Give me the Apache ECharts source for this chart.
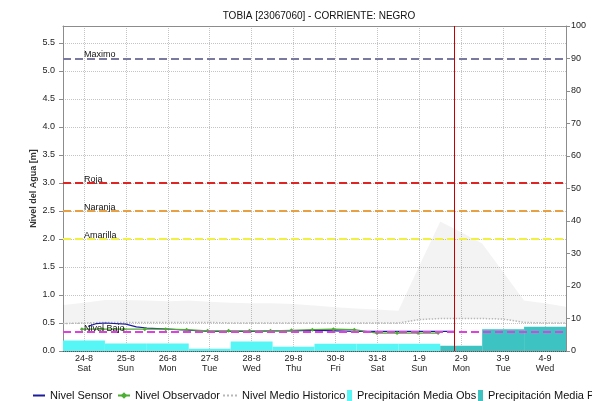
<!DOCTYPE html>
<html>
<head>
<meta charset="utf-8">
<script src="https://cdn.jsdelivr.net/npm/echarts@6/dist/echarts.min.js"></script>
<style>
  html, body { margin: 0; padding: 0; background: #fff; }
  #chart { width: 592px; height: 401px; }
</style>
</head>
<body>
<div id="chart"></div>
<script>
// Station level chart: sensor/observer readings, historical band, thresholds and daily rainfall.
const dayLabels = ['24-8', '25-8', '26-8', '27-8', '28-8', '29-8', '30-8', '31-8', '1-9', '2-9', '3-9', '4-9'];
const weekdayLabels = ['Sat', 'Sun', 'Mon', 'Tue', 'Wed', 'Thu', 'Fri', 'Sat', 'Sun', 'Mon', 'Tue', 'Wed'];

// Daily mean precipitation (right axis)
const precipObserved = [3.2, 2.3, 2.3, 0.7, 2.9, 1.3, 2.2, 2.2, 2.2, null, null, null];
const precipForecast = [null, null, null, null, null, null, null, null, null, 1.6, 6.7, 7.5];

// Sensor level (m), time in days from 24-8 noon
const sensorDays = [0.1, 0.3, 0.5, 1.0, 1.25, 1.5, 2.0, 2.5, 3.0, 3.5, 4.0, 4.5, 5.0, 5.5, 6.0, 6.5, 7.0, 7.5, 8.0, 8.5, 8.83];
const sensorLevels = [0.44, 0.49, 0.50, 0.48, 0.43, 0.41, 0.39, 0.37, 0.35, 0.35, 0.35, 0.36, 0.36, 0.37, 0.36, 0.35, 0.35, 0.35, 0.35, 0.35, 0.35];

// Observer readings (m)
const observerDays = [-0.05, 0.45, 0.95, 1.45, 1.95, 2.45, 2.95, 3.45, 3.95, 4.45, 4.95, 5.45, 5.95, 6.45, 6.99, 7.47, 7.97, 8.45];
const observerLevels = [0.39, 0.39, 0.39, 0.39, 0.39, 0.38, 0.36, 0.36, 0.36, 0.36, 0.37, 0.38, 0.39, 0.38, 0.32, 0.32, 0.32, 0.32];

// Historical mean level and historical maximum envelope (m), every half day
const histDays = [-0.5, 0, 0.5, 1, 1.5, 2, 2.5, 3, 3.5, 4, 4.5, 5, 5.5, 6, 6.5, 7, 7.5, 8, 8.5, 9, 9.5, 10, 10.5, 11, 11.5];
const histMean = [0.49, 0.50, 0.51, 0.51, 0.51, 0.51, 0.51, 0.51, 0.50, 0.50, 0.50, 0.50, 0.50, 0.50, 0.50, 0.50, 0.50, 0.56, 0.58, 0.58, 0.58, 0.57, 0.51, 0.50, 0.50];
const histUpper = [0.82, 0.86, 0.91, 0.91, 0.90, 0.89, 0.90, 0.88, 0.86, 0.85, 0.85, 0.84, 0.81, 0.78, 0.76, 0.74, 0.72, 1.52, 2.31, 2.12, 1.92, 1.41, 0.90, 0.85, 0.79];

// Alert thresholds (m)
const thresholdNames = ['Maximo', 'Roja', 'Naranja', 'Amarilla', 'Nivel Bajo'];
const thresholdValues = [5.22, 3.0, 2.5, 2.0, 0.345];

// Current time marker (days)
const nowDay = 8.83;

const thresholdColors = ['#7a7aa0', '#e02424', '#e8a040', '#f2f23c', '#e040e0'];
const FONT = 'Liberation Sans, Arial, sans-serif';

const zip = (xs, ys) => xs.map((x, i) => [x, ys[i]]);

const chart = echarts.init(document.getElementById('chart'), null, { renderer: 'canvas' });

const markData = thresholdValues.map((v, i) => ({
  yAxis: v,
  name: thresholdNames[i],
  lineStyle: { color: thresholdColors[i], type: [8, 4], width: 2 },
  label: { formatter: thresholdNames[i] }
}));
markData.push({
  xAxis: nowDay,
  lineStyle: { color: '#c40000', type: 'solid', width: 1 },
  label: { show: false }
});

// One legend block per entry so each icon sits where it belongs
const legendItems = [
  { name: 'Nivel Sensor', left: 32, w: 12, h: 8, hideSymbol: true },
  { name: 'Nivel Observador', left: 117, w: 12, h: 8, hideSymbol: false },
  { name: 'Nivel Medio Historico', left: 222, w: 14, h: 8, hideSymbol: true },
  { name: 'Precipitación Media Obs', left: 347, w: 5, h: 11, icon: 'rect' },
  { name: 'Precipitación Media Pronosticada', left: 478, w: 5, h: 11, icon: 'rect' }
];
const legends = legendItems.map(it => ({
  data: [it.hideSymbol ? { name: it.name, itemStyle: { opacity: 0 } } : { name: it.name }],
  left: it.left,
  top: 390,
  padding: 0,
  icon: it.icon,
  itemWidth: it.w,
  itemHeight: it.h,
  selectedMode: false,
  textStyle: { fontSize: 11, color: '#111', fontFamily: FONT }
}));

chart.setOption({
  animation: false,
  backgroundColor: '#ffffff',
  textStyle: { fontFamily: FONT },
  title: {
    text: 'TOBIA [23067060] - CORRIENTE: NEGRO',
    left: 314,
    top: 6,
    textAlign: 'center',
    textStyle: { fontSize: 10, fontWeight: 'normal', color: '#111', fontFamily: FONT }
  },
  grid: { left: 63, right: 26, top: 26, bottom: 50, containLabel: false },
  legend: legends,
  xAxis: [
    {
      type: 'category',
      data: dayLabels.map((d, i) => d + '\n' + weekdayLabels[i]),
      boundaryGap: true,
      axisLine: { show: true, onZero: false, lineStyle: { color: '#555', type: 'dotted', width: 1 } },
      axisTick: { show: false },
      axisLabel: { fontSize: 9, color: '#222', lineHeight: 9.5, margin: 3, interval: 0, fontFamily: FONT },
      splitLine: { show: false }
    },
    {
      type: 'value',
      min: -0.5, max: 11.5,
      show: false
    },
    {
      type: 'value',
      position: 'top',
      min: 0, max: 1,
      axisLine: { show: true, onZero: false, lineStyle: { color: '#8c8c8c', width: 1 } },
      axisTick: { show: false },
      axisLabel: { show: false },
      splitLine: { show: false }
    },
    {
      // half-day axis: carries the historical band and the daily vertical grid
      type: 'category',
      data: histDays,
      boundaryGap: false,
      axisLine: { show: false, onZero: false },
      axisTick: { show: false },
      axisLabel: { show: false },
      splitLine: {
        show: true,
        interval: (index) => index % 2 === 1,
        lineStyle: { color: '#c4c4c4', type: 'dotted', width: 1 }
      }
    }
  ],
  yAxis: [
    {
      type: 'value',
      min: 0, max: 5.8, interval: 0.5,
      name: 'Nivel del Agua [m]',
      nameLocation: 'middle',
      nameGap: 25,
      nameMoveOverlap: false,
      nameTextStyle: { fontSize: 9, fontWeight: 'bold', color: '#333', fontFamily: FONT },
      axisLine: { show: true, onZero: false, lineStyle: { color: '#8c8c8c', width: 1 } },
      axisTick: { show: true, length: 4, lineStyle: { color: '#8c8c8c' } },
      axisLabel: { fontSize: 9, color: '#222', margin: 8, showMaxLabel: false, formatter: v => v.toFixed(1), fontFamily: FONT },
      splitLine: { show: true, lineStyle: { color: '#c4c4c4', type: 'dotted', width: 1 } }
    },
    {
      type: 'value',
      min: 0, max: 100, interval: 10,
      position: 'right',
      axisLine: { show: true, onZero: false, lineStyle: { color: '#8c8c8c', width: 1 } },
      axisTick: { show: true, length: 4, lineStyle: { color: '#8c8c8c' } },
      axisLabel: { fontSize: 9, color: '#222', margin: 5, fontFamily: FONT },
      splitLine: { show: false }
    }
  ],
  series: [
    {
      name: 'histLower',
      type: 'line',
      xAxisIndex: 3, yAxisIndex: 0,
      stack: 'hist',
      data: histMean,
      symbol: 'none',
      lineStyle: { opacity: 0 },
      silent: true,
      z: 1
    },
    {
      name: 'histBand',
      type: 'line',
      xAxisIndex: 3, yAxisIndex: 0,
      stack: 'hist',
      data: histUpper.map((u, i) => +(u - histMean[i]).toFixed(3)),
      symbol: 'none',
      lineStyle: { opacity: 0 },
      areaStyle: { color: 'rgba(0,0,0,0.065)' },
      silent: true,
      z: 1
    },
    {
      name: 'Precipitación Media Obs',
      type: 'bar',
      xAxisIndex: 0, yAxisIndex: 1,
      data: precipObserved,
      barWidth: '100%',
      barGap: '-100%',
      itemStyle: { color: '#57f6f6' },
      z: 2
    },
    {
      name: 'Precipitación Media Pronosticada',
      type: 'bar',
      xAxisIndex: 0, yAxisIndex: 1,
      data: precipForecast,
      barWidth: '100%',
      barGap: '-100%',
      itemStyle: { color: '#3ec3c3' },
      z: 2
    },
    {
      name: 'Nivel Medio Historico',
      type: 'line',
      xAxisIndex: 3, yAxisIndex: 0,
      data: histMean,
      symbol: 'none',
      itemStyle: { color: '#b8b8b8' },
      lineStyle: { color: '#b8b8b8', type: 'dotted', width: 1.5 },
      z: 3
    },
    {
      name: 'Nivel Sensor',
      type: 'line',
      xAxisIndex: 1, yAxisIndex: 0,
      data: zip(sensorDays, sensorLevels),
      symbol: 'none',
      itemStyle: { color: '#1c1c9c' },
      lineStyle: { color: '#1c1c9c', width: 1.2 },
      z: 4
    },
    {
      name: 'Nivel Observador',
      type: 'line',
      xAxisIndex: 1, yAxisIndex: 0,
      data: zip(observerDays, observerLevels),
      symbol: 'diamond',
      symbolSize: 4,
      itemStyle: { color: '#4cae32' },
      lineStyle: { color: '#4cae32', width: 1.2 },
      z: 4
    },
    {
      name: 'thresholds',
      type: 'line',
      xAxisIndex: 1, yAxisIndex: 0,
      data: [],
      z: 5,
      markLine: {
        silent: true,
        symbol: 'none',
        animation: false,
        label: {
          show: true,
          position: 'insideStartTop',
          distance: [21, -1],
          fontSize: 9,
          color: '#111',
          fontFamily: FONT
        },
        data: markData
      }
    }
  ]
});
</script>
</body>
</html>
